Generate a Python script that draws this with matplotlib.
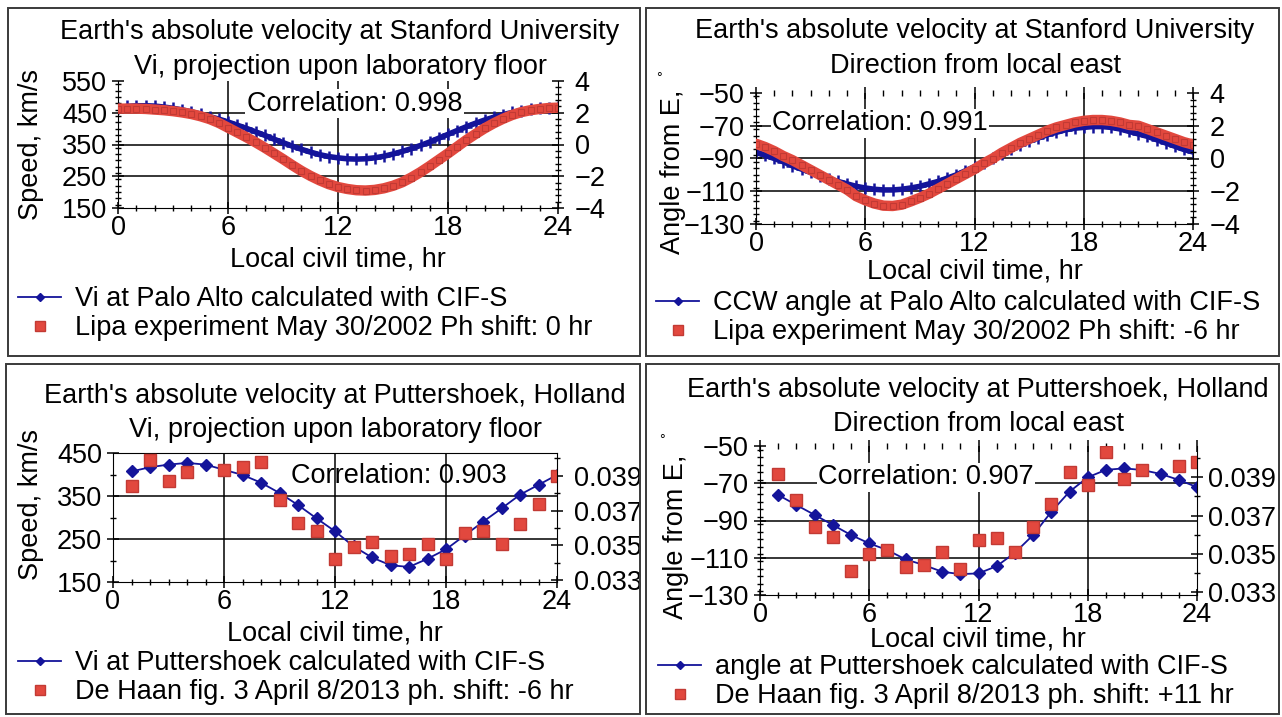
import matplotlib
matplotlib.use('Agg')
import matplotlib.pyplot as plt
import numpy as np
from matplotlib.lines import Line2D
from matplotlib.patches import Rectangle
from matplotlib.ticker import MultipleLocator, FormatStrFormatter

plt.rcParams['font.family'] = ['Liberation Sans', 'DejaVu Sans']
plt.rcParams['font.size'] = 19.5

# ---- data ----
t_half = np.arange(0, 24.5, 0.5)
hours = np.arange(1, 25)

# Stanford, speed (km/s) and Lipa experiment (right axis units)
pa_speed = [466, 470, 472, 472, 471, 468, 464, 459, 453, 446, 438, 430, 421, 411,
            401, 390, 379, 367, 356, 345, 335, 326, 318, 312, 308, 305, 304, 305,
            308, 313, 320, 328, 337, 347, 358, 370, 382, 394, 406, 417, 427, 436,
            444, 451, 457, 461, 464, 466, 467]
lipa_speed = [2.26, 2.26, 2.26, 2.24, 2.2, 2.16, 2.1, 2.02, 1.92, 1.78, 1.6, 1.36,
              1.06, 0.76, 0.46, 0.14, -0.2, -0.56, -0.92, -1.3, -1.66, -1.98, -2.26,
              -2.5, -2.68, -2.8, -2.88, -2.9, -2.86, -2.76, -2.6, -2.38, -2.08, -1.74,
              -1.36, -0.96, -0.56, -0.14, 0.28, 0.66, 1.02, 1.34, 1.62, 1.86, 2.04,
              2.16, 2.24, 2.3, 2.32]

# Stanford, direction (deg from east) and Lipa experiment (right axis units)
pa_angle = [-86, -88, -90, -92, -94.5, -96.5, -98.5, -100.5, -102.5, -104, -105.5,
            -107, -108, -108.8, -109.2, -109.2, -108.8, -108, -107, -105.5, -104,
            -102, -100, -97.5, -95, -92.5, -90, -87, -84.5, -82, -79.5, -77.5, -75.5,
            -74, -72.5, -71.5, -71, -70.5, -70.5, -71, -72, -73.5, -75, -76.5, -78.5,
            -80.5, -82.5, -84.5, -86]
lipa_angle = [0.9, 0.7, 0.45, 0.15, -0.1, -0.4, -0.7, -1.0, -1.3, -1.6, -1.9, -2.3,
              -2.55, -2.75, -2.88, -2.9, -2.82, -2.62, -2.4, -2.15, -1.85, -1.55,
              -1.25, -0.95, -0.65, -0.3, 0.0, 0.35, 0.65, 0.95, 1.2, 1.45, 1.7, 1.9,
              2.05, 2.2, 2.3, 2.35, 2.35, 2.3, 2.2, 2.05, 2.0, 1.8, 1.6, 1.4, 1.2,
              1.0, 0.85]

# Puttershoek, speed and De Haan (right axis units)
pu_speed = [407, 417, 423, 427, 423, 411, 399, 381, 357, 329, 298, 268, 233, 207,
            189, 185, 204, 226, 258, 290, 321, 353, 376, 399]
dh_speed = [0.0384, 0.0399, 0.0387, 0.0392, np.nan, 0.0393, 0.0395, 0.0398, 0.0376,
            0.0363, 0.0358, 0.0342, 0.0349, 0.0352, 0.0344, 0.0345, 0.0351, 0.0342,
            0.0357, 0.0358, 0.0351, 0.0362, 0.0374, 0.0390]

# Puttershoek, direction and De Haan (right axis units)
pu_angle = [-76.3, -81.7, -87, -92.4, -97.8, -102.3, -105.9, -110.9, -113.9, -117.5,
            -118.8, -118.4, -114.5, -107.3, -97.8, -85.3, -74.5, -66.8, -62.8, -62,
            -62.9, -65, -68.2, -72.1]
dh_angle = [0.0392, 0.0378, 0.0364, 0.0359, 0.0341, 0.0350, 0.0352, 0.0343, 0.0344,
            0.0351, 0.0342, 0.0357, 0.0358, 0.0351, 0.0364, 0.0376, 0.0393, 0.0386,
            0.0403, 0.0389, 0.0394, np.nan, 0.0396, 0.0398]

BLUE = '#14149a'
RED = '#e2483e'
RED_EDGE = '#c23a34'

W, H = 1282, 717
fig = plt.figure(figsize=(W / 100, H / 100), dpi=100)


def box(x0, y0, x1, y1):
    return [x0 / W, 1 - y1 / H, (x1 - x0) / W, (y1 - y0) / H]


def ftext(x, y, s, **kw):
    fig.text(x / W, 1 - y / H, s, ha=kw.pop('ha', 'center'), va=kw.pop('va', 'center'), **kw)


def frame(x0, y0, x1, y1):
    fig.patches.append(Rectangle((x0 / W, 1 - y1 / H), (x1 - x0) / W, (y1 - y0) / H,
                                 transform=fig.transFigure, fill=False,
                                 ec='#3a3a3a', lw=1.4))


def make_axes(pos, ylim, ystep, yminor, ylim2, yticks2, yminor2, hgrid,
              fmt2=None, top_ticks=False, top_spine=False, pad2=8):
    ax = fig.add_axes(box(*pos))
    ax2 = ax.twinx()
    ax.set_xlim(0, 24)
    ax.set_xticks([0, 6, 12, 18, 24])
    ax.xaxis.set_minor_locator(MultipleLocator(1))
    ax.set_ylim(*ylim)
    ax.set_yticks(np.arange(ylim[0], ylim[1] + 1, ystep))
    ax.yaxis.set_minor_locator(MultipleLocator(yminor))
    ax2.set_ylim(*ylim2)
    ax2.set_yticks(yticks2)
    ax2.yaxis.set_minor_locator(MultipleLocator(yminor2))
    if fmt2:
        ax2.yaxis.set_major_formatter(FormatStrFormatter(fmt2))
    for v in [6, 12, 18]:
        ax.axvline(v, color='black', lw=1.1, zorder=0.5)
    for v in hgrid:
        ax.axhline(v, color='black', lw=1.1, zorder=0.5)
    ax.spines['right'].set_visible(False)
    ax.spines['top'].set_visible(top_spine)
    for s in ['left', 'top', 'bottom']:
        ax2.spines[s].set_visible(False)
    for a in (ax, ax2):
        a.tick_params(which='major', direction='inout', length=8, width=1.1,
                      labelsize=19.5, pad=4)
        a.tick_params(which='minor', direction='inout', length=5, width=1)
    ax.tick_params(axis='x', which='major', pad=1)
    ax.tick_params(axis='x', which='both', top=top_ticks)
    ax2.tick_params(axis='y', which='major', pad=pad2)
    return ax, ax2


def legend(x, y, blue_label, red_label):
    handles = [Line2D([], [], color=BLUE, lw=1.3, marker='D', ms=4),
               Line2D([], [], ls='none', marker='s', ms=7, color=RED, mec=RED_EDGE)]
    fig.legend(handles, [blue_label, red_label], loc='upper left',
               bbox_to_anchor=(x / W, 1 - y / H), frameon=False, fontsize=19.5,
               handlelength=1.6, handletextpad=0.5, labelspacing=0.12,
               borderpad=0, borderaxespad=0)


def dense(ax, ax2, t, blue, red):
    # calculated series: dense blue crosses, measured series: thick red band
    ax.plot(t, blue, color=BLUE, lw=4, marker='+', ms=9, mew=1.8)
    ax2.plot(t, red, color=RED, lw=7.5, marker='s', ms=5, mec=RED_EDGE, mew=0.8,
             solid_capstyle='round')


def corr(ax, ax2, x, y, s, box_on=True):
    kw = dict(bbox=dict(fc='white', ec='none', pad=1)) if box_on else {}
    ax2.text(x, y, s, transform=ax.transData, ha='center', va='center',
             fontsize=19.5, zorder=10, **kw)


# panel frames
frame(8, 8, 640, 356)
frame(646, 8, 1279, 356)
frame(6, 364, 640, 714)
frame(646, 364, 1279, 714)

# ---- top left: Stanford speed ----
ax, ax2 = make_axes((118, 81, 558, 208), (150, 550), 100, 20, (-4, 4), [-4, -2, 0, 2, 4],
                    0.4, [250, 350, 450])
dense(ax, ax2, t_half, pa_speed, lipa_speed)
corr(ax, ax2, 12.9, 479, 'Correlation: 0.998')
ftext(340, 32, "Earth's absolute velocity at Stanford University")
ftext(340, 67, 'Vi, projection upon laboratory floor')
ftext(31, 145, 'Speed, km/s', rotation=90)
ftext(338, 259, 'Local civil time, hr')
legend(18, 286, 'Vi at Palo Alto calculated with CIF-S',
       'Lipa experiment May 30/2002 Ph shift: 0 hr')

# ---- top right: Stanford direction ----
ax, ax2 = make_axes((756, 93, 1193, 224), (-130, -50), 20, 4, (-4, 4), [-4, -2, 0, 2, 4],
                    0.4, [-110, -90, -70], top_ticks=True)
dense(ax, ax2, t_half, pa_angle, lipa_angle)
corr(ax, ax2, 6.8, -68.5, 'Correlation: 0.991')
ftext(975, 31, "Earth's absolute velocity at Stanford University")
ftext(975, 66, 'Direction from local east')
ftext(673, 172, 'Angle from E,', rotation=90)
ftext(659, 78, '°', fontsize=10)
ftext(975, 271, 'Local civil time, hr')
legend(656, 290, 'CCW angle at Palo Alto calculated with CIF-S',
       'Lipa experiment May 30/2002 Ph shift: -6 hr')

# ---- bottom left: Puttershoek speed ----
ax, ax2 = make_axes((113, 453, 557, 582), (150, 450), 100, 50, (0.0329, 0.0403),
                    [0.033, 0.035, 0.037, 0.039], 0.001, [250, 350],
                    fmt2='%.3f', top_spine=True)
ax.plot(hours, pu_speed, color=BLUE, lw=1.3, marker='D', ms=6)
ax2.plot(hours, dh_speed, ls='none', marker='s', ms=8, color=RED, mec=RED_EDGE)
corr(ax, ax2, 15.45, 396, 'Correlation: 0.903', box_on=False)
ftext(335, 396, "Earth's absolute velocity at Puttershoek, Holland")
ftext(335, 430, 'Vi, projection upon laboratory floor')
ftext(31, 505, 'Speed, km/s', rotation=90)
ftext(335, 634, 'Local civil time, hr')
legend(18, 650, 'Vi at Puttershoek calculated with CIF-S',
       'De Haan fig. 3 April 8/2013 ph. shift: -6 hr')

# ---- bottom right: Puttershoek direction ----
ax, ax2 = make_axes((760, 446, 1197, 595), (-130, -50), 20, 4, (0.03284, 0.04064),
                    [0.033, 0.035, 0.037, 0.039], 0.001, [-110, -90, -70],
                    fmt2='%.3f', top_ticks=True, pad2=4)
ax.plot(hours, pu_angle, color=BLUE, lw=1.3, marker='D', ms=6)
ax2.plot(hours, dh_angle, ls='none', marker='s', ms=8, color=RED, mec=RED_EDGE)
corr(ax, ax2, 9.1, -66.8, 'Correlation: 0.907')
ftext(978, 390, "Earth's absolute velocity at Puttershoek, Holland")
ftext(978, 424, 'Direction from local east')
ftext(676, 537, 'Angle from E,', rotation=90)
ftext(662, 440, '°', fontsize=10)
ftext(978, 640, 'Local civil time, hr')
legend(658, 654, 'angle at Puttershoek calculated with CIF-S',
       'De Haan fig. 3 April 8/2013 ph. shift: +11 hr')

fig.savefig('out.png', dpi=100, facecolor='white')
